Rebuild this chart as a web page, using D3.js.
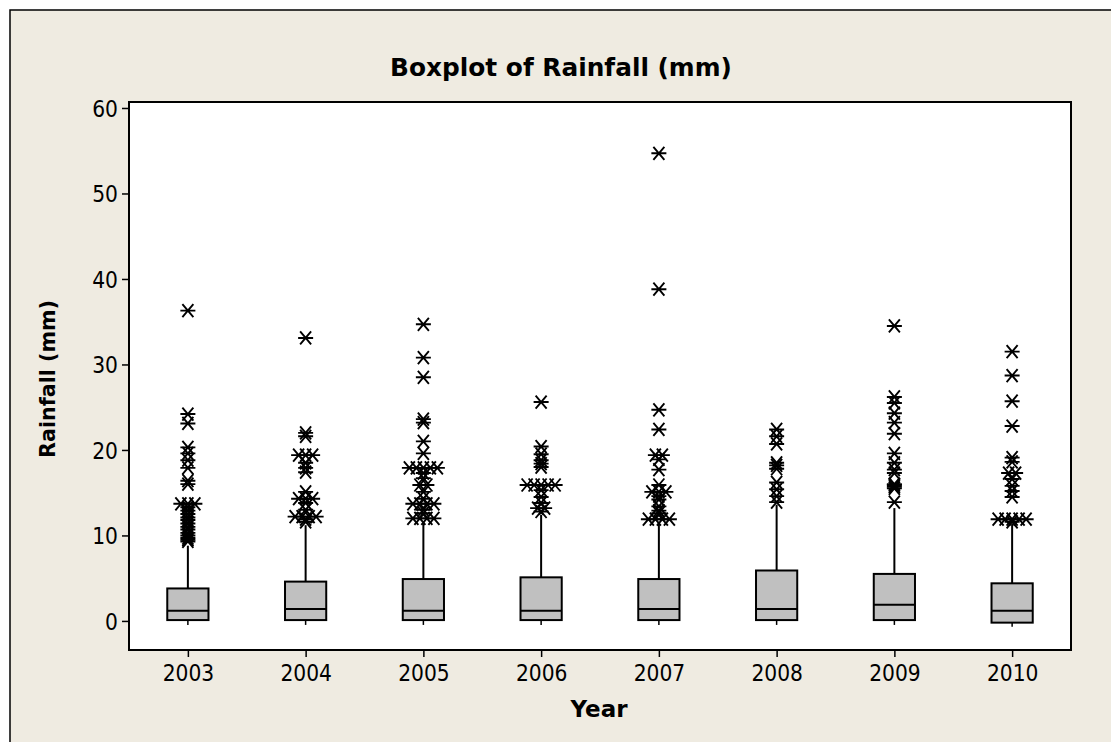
<!DOCTYPE html>
<html><head><meta charset="utf-8">
<script src="https://cdn.jsdelivr.net/npm/d3@7"></script>
<style>
html,body{margin:0;padding:0;background:#fff;}
svg{display:block;}
</style></head>
<body>
<svg id="chart" width="1111" height="742"></svg>
<script>
// ---- data ----
const years = ["2003","2004","2005","2006","2007","2008","2009","2010"];
const q1Values     = [0.1, 0.1, 0.1, 0.1, 0.1, 0.1, 0.1, -0.2];
const medianValues = [1.2, 1.4, 1.2, 1.2, 1.4, 1.4, 1.9, 1.2];
const q3Values     = [3.8, 4.6, 4.9, 5.1, 4.9, 5.9, 5.5, 4.4];
const whiskerLow   = [0, 0, 0, 0, 0, 0, 0, -0.2];
const whiskerHigh  = [8.8, 11.2, 11.4, 12.4, 11.5, 13.6, 13.2, 11.4];
const outliers2003 = [36.3,24.2,23.1,20.3,19.6,18.8,17.9,16.4,16.0,13.7,13.7,13.7,13.3,12.9,12.5,12.1,11.8,11.4,11.0,10.7,10.3,10.0,9.7,9.5,9.3];
const outliers2004 = [33.1,22.0,21.6,19.4,19.4,19.4,18.5,17.9,17.4,15.1,14.3,14.3,14.3,13.8,13.0,12.2,12.2,12.2,12.2,11.9,11.6];
const outliers2005 = [34.7,30.8,28.5,23.6,23.2,21.0,19.6,17.9,17.9,17.9,17.9,17.9,17.3,16.7,15.9,15.9,15.1,14.3,13.7,13.7,13.7,13.7,13.0,12.6,12.0,12.0,12.0,12.0];
const outliers2006 = [25.6,20.4,19.5,18.8,18.4,18.0,15.9,15.9,15.9,15.9,15.9,15.3,14.5,13.8,13.2,13.2,12.8];
const outliers2007 = [54.7,38.8,24.7,22.4,19.4,19.4,18.9,17.7,15.9,15.1,15.1,15.1,14.6,14.2,13.4,12.9,12.6,11.9,11.9,11.9,11.9];
const outliers2008 = [22.4,21.6,20.7,18.5,18.2,17.8,16.2,15.4,14.6,13.9];
const outliers2009 = [34.5,26.2,25.5,24.3,23.2,21.9,19.6,18.5,17.7,17.3,16.0,15.9,15.7,15.5,13.9];
const outliers2010 = [31.5,28.7,25.7,22.8,19.1,18.6,17.3,17.3,16.6,15.8,15.2,14.5,11.9,11.9,11.9,11.9,11.9,11.6];
const outlierSets = [outliers2003,outliers2004,outliers2005,outliers2006,outliers2007,outliers2008,outliers2009,outliers2010];
const yTicks = [0,10,20,30,40,50,60];

// ---- layout ----
const plot = {left:129, right:1071, top:102, bottom:650};
const tickFont = "'DejaVu Sans Condensed','DejaVu Sans',sans-serif";
const titleFont = "'DejaVu Sans',sans-serif";
const svg = d3.select("#chart");

svg.append("rect").attr("x",10).attr("y",10).attr("width",1200).attr("height",800)
  .attr("fill","#EFEBE1").attr("stroke","#000").attr("stroke-width",1.5);

svg.append("rect").attr("x",plot.left).attr("y",plot.top)
  .attr("width",plot.right-plot.left).attr("height",plot.bottom-plot.top)
  .attr("fill","#fff").attr("stroke","#000").attr("stroke-width",2);

const x = d3.scalePoint().domain(years).range([plot.left, plot.right]).padding(0.5);
const y = d3.scaleLinear().domain([-3.4, 60.7]).range([plot.bottom, plot.top]);

// axes
const yAxis = d3.axisLeft(y).tickValues(yTicks).tickSize(7).tickPadding(4).tickSizeOuter(0);
const gy = svg.append("g").attr("transform",`translate(${plot.left},0)`).call(yAxis);
gy.select(".domain").remove();
gy.selectAll("line").attr("stroke","#000").attr("stroke-width",1.5);
gy.selectAll("text").attr("font-family",tickFont).attr("font-size",22.5).attr("fill","#000").attr("dy","0.36em");

const xAxis = d3.axisBottom(x).tickSize(7).tickPadding(8).tickSizeOuter(0);
const gx = svg.append("g").attr("transform",`translate(0,${plot.bottom})`).call(xAxis);
gx.select(".domain").remove();
gx.selectAll("line").attr("stroke","#000").attr("stroke-width",1.5);
gx.selectAll("text").attr("font-family",tickFont).attr("font-size",22.5).attr("fill","#000").attr("dy","0.72em");

// titles, sized to the reference widths
function fitText(sel, target){
  const base = 20;
  sel.attr("font-size", base);
  const len = sel.node().getComputedTextLength();
  sel.attr("font-size", base*target/len);
  return sel;
}
fitText(svg.append("text").attr("x",561).attr("y",76)
  .attr("text-anchor","middle").attr("font-family",titleFont).attr("font-weight","bold")
  .text("Boxplot of Rainfall (mm)"), 342);
fitText(svg.append("text").attr("x",599).attr("y",717)
  .attr("text-anchor","middle").attr("font-family",titleFont).attr("font-weight","bold")
  .text("Year"), 57);
fitText(svg.append("text").attr("transform",`translate(55,379) rotate(-90)`)
  .attr("text-anchor","middle").attr("font-family",titleFont).attr("font-weight","bold")
  .text("Rainfall (mm)"), 158);

// boxes
const bw = x.step()*0.35;
const g = svg.append("g");
years.forEach((yr,i)=>{
  const cx = x(yr);
  g.append("line").attr("x1",cx).attr("x2",cx).attr("y1",y(q3Values[i])).attr("y2",y(whiskerHigh[i]))
    .attr("stroke","#000").attr("stroke-width",2);
  g.append("line").attr("x1",cx).attr("x2",cx).attr("y1",y(q1Values[i])).attr("y2",y(whiskerLow[i])+4)
    .attr("stroke","#000").attr("stroke-width",1.5);
  g.append("rect").attr("x",cx-bw/2).attr("y",y(q3Values[i]))
    .attr("width",bw).attr("height",y(q1Values[i])-y(q3Values[i]))
    .attr("fill","#C0C0C0").attr("stroke","#000").attr("stroke-width",2);
  g.append("line").attr("x1",cx-bw/2).attr("x2",cx+bw/2).attr("y1",y(medianValues[i])).attr("y2",y(medianValues[i]))
    .attr("stroke","#000").attr("stroke-width",2);

  // outliers, identical values placed side by side
  const counts = d3.rollup(outlierSets[i], v=>v.length, d=>d);
  const seen = new Map();
  const step = 7;
  outlierSets[i].forEach(v=>{
    const n = counts.get(v);
    const k = seen.get(v)||0; seen.set(v,k+1);
    const dx = (k-(n-1)/2)*step;
    g.append("path").attr("transform",`translate(${cx+dx},${y(v)})`)
      .attr("d","M-7.5,0H7.5M-5.5,-6.5L5.5,6.5M-5.5,6.5L5.5,-6.5")
      .attr("fill","none").attr("stroke","#000").attr("stroke-width",1.9);
  });
});
</script>
</body></html>
